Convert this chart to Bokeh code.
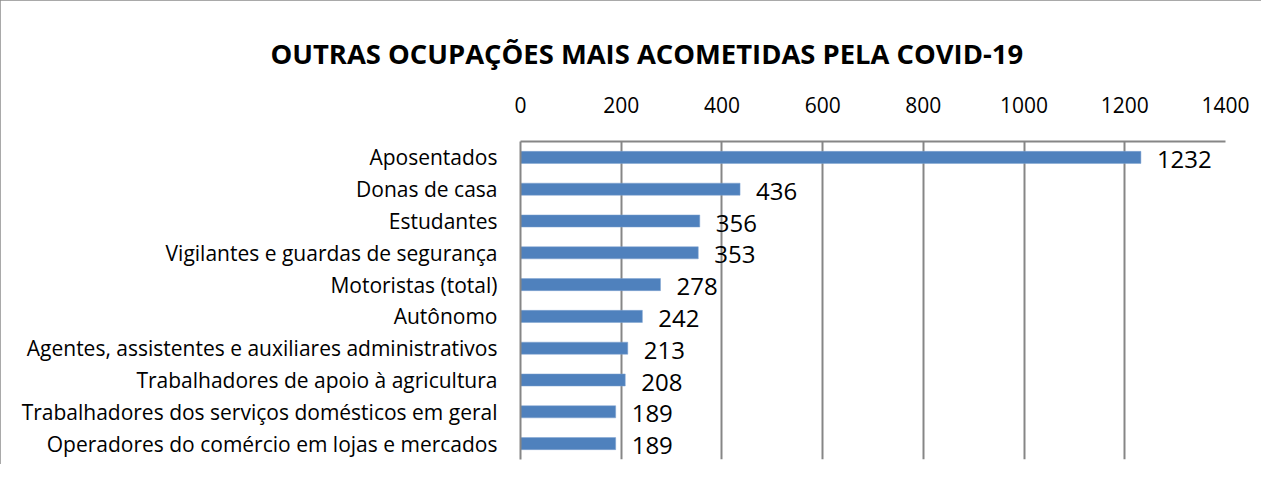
from bokeh.plotting import figure
from bokeh.models import ColumnDataSource, FixedTicker
from bokeh.core.properties import value
from bokeh.embed import file_html
from bokeh.resources import INLINE

categories = [
    "Aposentados",
    "Donas de casa",
    "Estudantes",
    "Vigilantes e guardas de segurança",
    "Motoristas (total)",
    "Autônomo",
    "Agentes, assistentes e auxiliares administrativos",
    "Trabalhadores de apoio à agricultura",
    "Trabalhadores dos serviços domésticos em geral",
    "Operadores do comércio em lojas e mercados",
]
counts = [1232, 436, 356, 353, 278, 242, 213, 208, 189, 189]
x_ticks = [0, 200, 400, 600, 800, 1000, 1200, 1400]
title_text = "OUTRAS OCUPAÇÕES MAIS ACOMETIDAS PELA COVID-19"

FONT = "Open Sans"
GRID = "#868686"

source = ColumnDataSource(dict(cat=categories, n=counts, lbl=[str(c) for c in counts]))

p = figure(
    width=1261, height=464,
    y_range=list(reversed(categories)),
    x_range=(0, 1400),
    output_backend="svg",
    toolbar_location=None,
    x_axis_location="above",
    min_border_left=520, min_border_right=36,
    min_border_top=141, min_border_bottom=5,
)
p.styles = {"box-shadow": "inset 2px 2px 0 #8c8c8c"}
p.background_fill_color = "white"
p.border_fill_color = "white"
p.outline_line_color = None

p.title.text = title_text
p.title.align = "left"
p.title.offset = -250
p.title.text_font = FONT
p.title.text_font_style = "bold"
p.title.text_font_size = "27.4px"
p.title.text_color = "black"
p.title.standoff = 44

p.hbar(y="cat", right="n", height=0.38, left=0, source=source,
       fill_color="#4F81BD", line_color="#7FA3D0", line_width=0.5)

p.text(x="n", y="cat", text="lbl", source=source, x_offset=16, y_offset=2,
       text_baseline="middle", text_align="left",
       text_font=value(FONT), text_font_size="24px", text_color="black")

xa = p.xaxis[0]
xa.ticker = FixedTicker(ticks=x_ticks)
xa.major_label_text_font = FONT
xa.major_label_text_font_size = "21px"
xa.major_label_text_color = "black"
xa.major_tick_line_color = None
xa.minor_tick_line_color = None
xa.axis_line_color = GRID
xa.axis_line_width = 2
xa.major_label_standoff = 23

ya = p.yaxis[0]
ya.major_label_text_font = FONT
ya.major_label_text_font_size = "21px"
ya.major_label_text_color = "black"
ya.major_tick_line_color = None
ya.minor_tick_line_color = None
ya.axis_line_color = GRID
ya.axis_line_width = 2
ya.major_label_standoff = 17

p.xgrid.ticker = FixedTicker(ticks=x_ticks)
p.xgrid.grid_line_color = GRID
p.xgrid.grid_line_width = 2
p.ygrid.grid_line_color = None

open("out.html", "w").write(file_html(p, INLINE))
